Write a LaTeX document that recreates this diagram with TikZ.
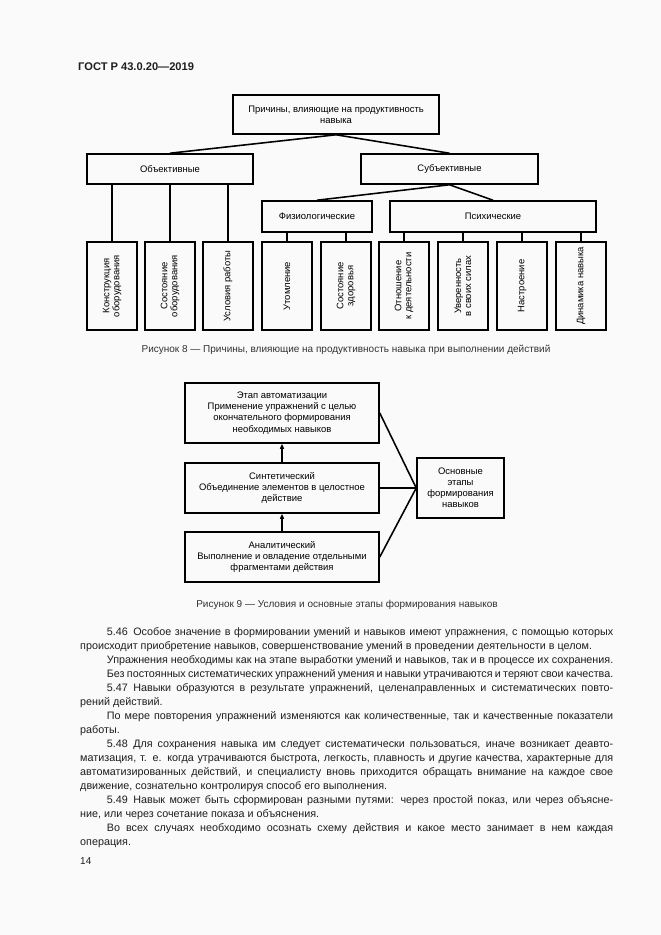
\documentclass[tikz,border=0pt]{standalone}
\usepackage{fontspec}
\setmainfont{Liberation Sans}
\usetikzlibrary{arrows.meta}
\definecolor{pagebg}{RGB}{250,250,250}
\definecolor{txt}{RGB}{30,30,30}
\definecolor{captxt}{RGB}{50,50,50}
\begin{document}
\begin{tikzpicture}[x=0.9pt,y=-0.9pt,
  box/.style={draw, line width=1.4pt, inner sep=1pt, align=center,
    font=\fontsize{8.5}{10}\selectfont},
  vbox/.style={draw, line width=1.4pt, inner sep=0pt, minimum width=45pt, minimum height=79.2pt},
  vtext/.style={rotate=90, inner sep=0pt, align=center, font=\fontsize{8.5}{9}\selectfont},
  conn/.style={line width=1.4pt},
  arr/.style={line width=1.4pt, -{Triangle[length=4.5pt,width=3.6pt]}},
  caption/.style={inner sep=0pt, text=captxt, font=\fontsize{9}{11}\selectfont}
]
\useasboundingbox (0,0) rectangle (661,935);
\fill[pagebg] (0,0) rectangle (661,935);

% header
\node[anchor=west, inner sep=0pt, text=txt, font=\fontsize{10}{12}\selectfont\bfseries] (hdr) at (78,67) {ГОСТ Р 43.0.20—2019};

% ---------- Figure 8 ----------
\node[box, minimum width=185.4pt, minimum height=35.1pt] (top) at (336,114.5) {Причины, влияющие на продуктивность\\навыка};
\node[box, minimum width=149.4pt, minimum height=27pt] (obj) at (170,169) {Объективные};
\node[box, minimum width=159.3pt, minimum height=27pt] (subj) at (449.5,169) {Субъективные};
\node[box, minimum width=99pt, minimum height=27.9pt] (fiz) at (317,216.5) {Физиологические};
\node[box, minimum width=185.4pt, minimum height=27.9pt] (psy) at (493,216.5) {Психические};

\draw[conn] (top.south) -- (obj.north);
\draw[conn] (top.south) -- (subj.north);
\draw[conn] (subj.south) -- (fiz.north);
\draw[conn] (subj.south) -- (psy.north);

\node[vbox] (b1) at (112,286) {};
\node[vbox] (b2) at (170,286) {};
\node[vbox] (b3) at (228,286) {};
\node[vbox] (b4) at (287,286) {};
\node[vbox] (b5) at (346,286) {};
\node[vbox] (b6) at (404,286) {};
\node[vbox] (b7) at (463,286) {};
\node[vbox] (b8) at (522,286) {};
\node[vbox] (b9) at (581,286) {};

\node[vtext] (t1) at (b1) {Конструкция\\оборудования};
\node[vtext] (t2) at (b2) {Состояние\\оборудования};
\node[vtext] (t3) at (b3) {Условия работы};
\node[vtext] (t4) at (b4) {Утомление};
\node[vtext] (t5) at (b5) {Состояние\\здоровья};
\node[vtext] (t6) at (b6) {Отношение\\к деятельности};
\node[vtext] (t7) at (b7) {Уверенность\\в своих силах};
\node[vtext] (t8) at (b8) {Настроение};
\node[vtext] (t9) at (b9) {Динамика навыка};

\foreach \b in {b1,b2,b3} \draw[conn] (\b.north) -- (\b.north |- obj.south);
\foreach \b in {b4,b5} \draw[conn] (\b.north) -- (\b.north |- fiz.south);
\foreach \b in {b6,b7,b8,b9} \draw[conn] (\b.north) -- (\b.north |- psy.south);

\node[caption] (cap8) at (346,350) {Рисунок 8 — Причины, влияющие на продуктивность навыка при выполнении действий};

% ---------- Figure 9 ----------
\node[box, minimum width=174.6pt, minimum height=54pt] (e1) at (282,413) {Этап автоматизации\\Применение упражнений с целью\\окончательного формирования\\необходимых навыков};
\node[box, minimum width=174.6pt, minimum height=45pt] (e2) at (282,488) {Синтетический\\Объединение элементов в целостное\\действие};
\node[box, minimum width=174.6pt, minimum height=45pt] (e3) at (282,557) {Аналитический\\Выполнение и овладение отдельными\\фрагментами действия};
\node[box, minimum width=78.3pt, minimum height=54pt] (main) at (460.5,488) {Основные\\этапы\\формирования\\навыков};

\draw[arr] (e3.north) -- (e2.south);
\draw[arr] (e2.north) -- (e1.south);
\draw[conn] (main.west) -- (e1.east);
\draw[conn] (main.west) -- (e2.east);
\draw[conn] (main.west) -- (e3.east);

\node[caption] (cap9) at (347,605) {Рисунок 9 — Условия и основные этапы формирования навыков};

% ---------- Body text ----------
\node[anchor=north west, inner sep=0pt, text width=479.7pt, align=justify, text=txt,
  font=\fontsize{9.7}{12.6}\selectfont] (body) at (80,627) {%
\setlength{\parindent}{24pt}\tolerance=10000\hyphenpenalty=10000%
\indent 5.46\enspace Особое значение в формировании умений и навыков имеют упражнения, с помощью которых\linebreak
происходит приобретение навыков, совершенствование умений в проведении деятельности в целом.\par
Упражнения необходимы как на этапе выработки умений и навыков, так и в процессе их сохранения.\par
Без постоянных систематических упражнений умения и навыки утрачиваются и теряют свои качества.\par
5.47\enspace Навыки образуются в результате упражнений, целенаправленных и систематических повто-\linebreak
рений действий.\par
По мере повторения упражнений изменяются как количественные, так и качественные показатели\linebreak
работы.\par
5.48\enspace Для сохранения навыка им следует систематически пользоваться, иначе возникает деавто-\linebreak
матизация, т. е. когда утрачиваются быстрота, легкость, плавность и другие качества, характерные для\linebreak
автоматизированных действий, и специалисту вновь приходится обращать внимание на каждое свое\linebreak
движение, сознательно контролируя способ его выполнения.\par
5.49\enspace Навык может быть сформирован разными путями: через простой показ, или через объясне-\linebreak
ние, или через сочетание показа и объяснения.\par
Во всех случаях необходимо осознать схему действия и какое место занимает в нем каждая\linebreak
операция.\par};

\node[anchor=base west, inner sep=0pt, text=txt, font=\fontsize{9}{11}\selectfont] (pg) at (80,864) {14};
\end{tikzpicture}
\end{document}
